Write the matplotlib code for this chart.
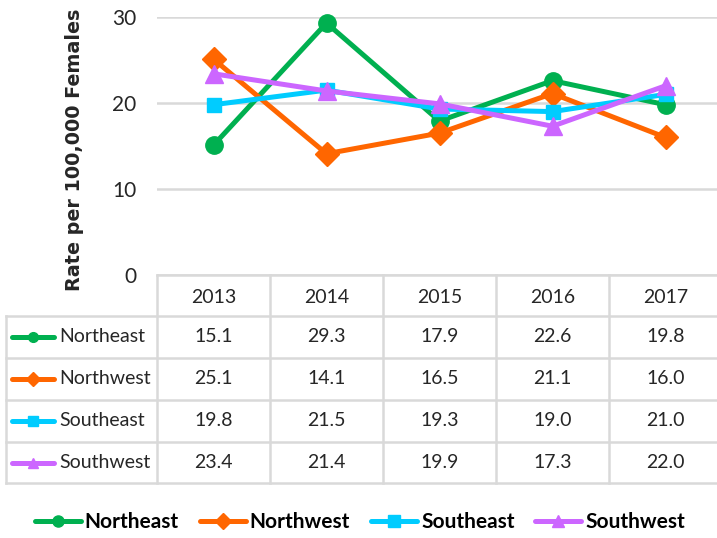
import matplotlib
matplotlib.use("Agg")
import matplotlib.pyplot as plt
import matplotlib.transforms as mtransforms
from matplotlib.lines import Line2D

years = ["2013", "2014", "2015", "2016", "2017"]
regions = ["Northeast", "Northwest", "Southeast", "Southwest"]
northeast = [15.1, 29.3, 17.9, 22.6, 19.8]
northwest = [25.1, 14.1, 16.5, 21.1, 16.0]
southeast = [19.8, 21.5, 19.3, 19.0, 21.0]
southwest = [23.4, 21.4, 19.9, 17.3, 22.0]
series = [northeast, northwest, southeast, southwest]
yticks = [0, 10, 20, 30]
ylabel = "Rate per 100,000 Females"

colors = ["#00B050", "#FF6600", "#00CCFF", "#CC66FF"]
markers = ["o", "D", "s", "^"]
msizes = [12.5, 12, 10.5, 13]

W, H = 717, 538
FONT = ["Lato", "DejaVu Sans"]
plt.rcParams["font.family"] = FONT

fig = plt.figure(figsize=(W / 100, H / 100), dpi=100)

# plot area in pixels
px_left, px_right, px_top, px_bottom = 157, 717, 17, 275
col_w = 113.0
ax = fig.add_axes([px_left / W, 1 - px_bottom / H, (px_right - px_left) / W, (px_bottom - px_top) / H])
ax.set_xlim(-0.5, -0.5 + (px_right - px_left) / col_w)
ax.set_ylim(0, 30)
for s in ax.spines.values():
    s.set_visible(False)
ax.set_xticks([])
ax.set_yticks(yticks)
ax.set_yticklabels([str(t) for t in yticks], fontsize=15, color="#262626")
ax.tick_params(axis="y", length=0, pad=15)
for t in yticks:
    ax.axhline(t, color="#d9d9d9", lw=1.8, zorder=0)

x = list(range(len(years)))
for vals, c, m, ms in zip(series, colors, markers, msizes):
    ax.plot(x, vals, color=c, lw=3.6, marker=m, markersize=ms, clip_on=False, zorder=3)

# y label
fig.text(75 / W, 1 - 150 / H, ylabel, rotation=90, ha="center", va="center",
         fontsize=13.8, fontweight="bold", family="DejaVu Sans", color="#262626")

# table (x from data coords, y in figure pixels from top)
pix = mtransforms.Affine2D().scale(1 / W, -1 / H).translate(0, 1) + fig.transFigure
tr = mtransforms.blended_transform_factory(ax.transData, pix)
pixtr = pix
grid_c = "#d9d9d9"
row_edges = [275, 316, 358, 400, 442, 483]
fig.add_artist(Line2D([px_left, W], [275, 275], transform=pixtr, color=grid_c, lw=1.8))
for yy in row_edges[1:]:
    fig.add_artist(Line2D([6, W], [yy, yy], transform=pixtr, color=grid_c, lw=1.8))
fig.add_artist(Line2D([6, 6], [316, 483], transform=pixtr, color=grid_c, lw=1.8))
for i in range(len(years)):
    xv = i - 0.5
    fig.add_artist(Line2D([xv, xv], [275, 483], transform=tr, color=grid_c, lw=1.8))

for i, yr in enumerate(years):
    fig.text(i, (275 + 316) / 2 + 2, yr, transform=tr, ha="center", va="center",
             fontsize=14, color="#262626")
for r, (name, vals, c, m) in enumerate(zip(regions, series, colors, markers)):
    yc = (row_edges[r + 1] + row_edges[r + 2]) / 2
    for i, v in enumerate(vals):
        fig.text(i, yc, f"{v:.1f}", transform=tr, ha="center", va="center",
                 fontsize=14, color="#262626")
    fig.add_artist(Line2D([12, 54], [yc, yc], transform=pixtr, color=c, lw=3.6,
                          solid_capstyle="round"))
    fig.add_artist(Line2D([33], [yc], transform=pixtr, color=c, marker=m, markersize=7))
    fig.text(59 / W, 1 - yc / H, name, ha="left", va="center", fontsize=14, color="#262626")

# bottom legend
handles = [Line2D([], [], color=c, lw=3.6, marker=m, markersize=8, solid_capstyle="round")
           for c, m in zip(colors, markers)]
fig.legend(handles, regions, loc="center", bbox_to_anchor=(360 / W, 1 - 522 / H), ncol=4,
           frameon=False, prop={"size": 15, "weight": "bold"}, handlelength=2.2,
           handletextpad=0.2, columnspacing=1.0)

fig.savefig("out.png", dpi=100)
